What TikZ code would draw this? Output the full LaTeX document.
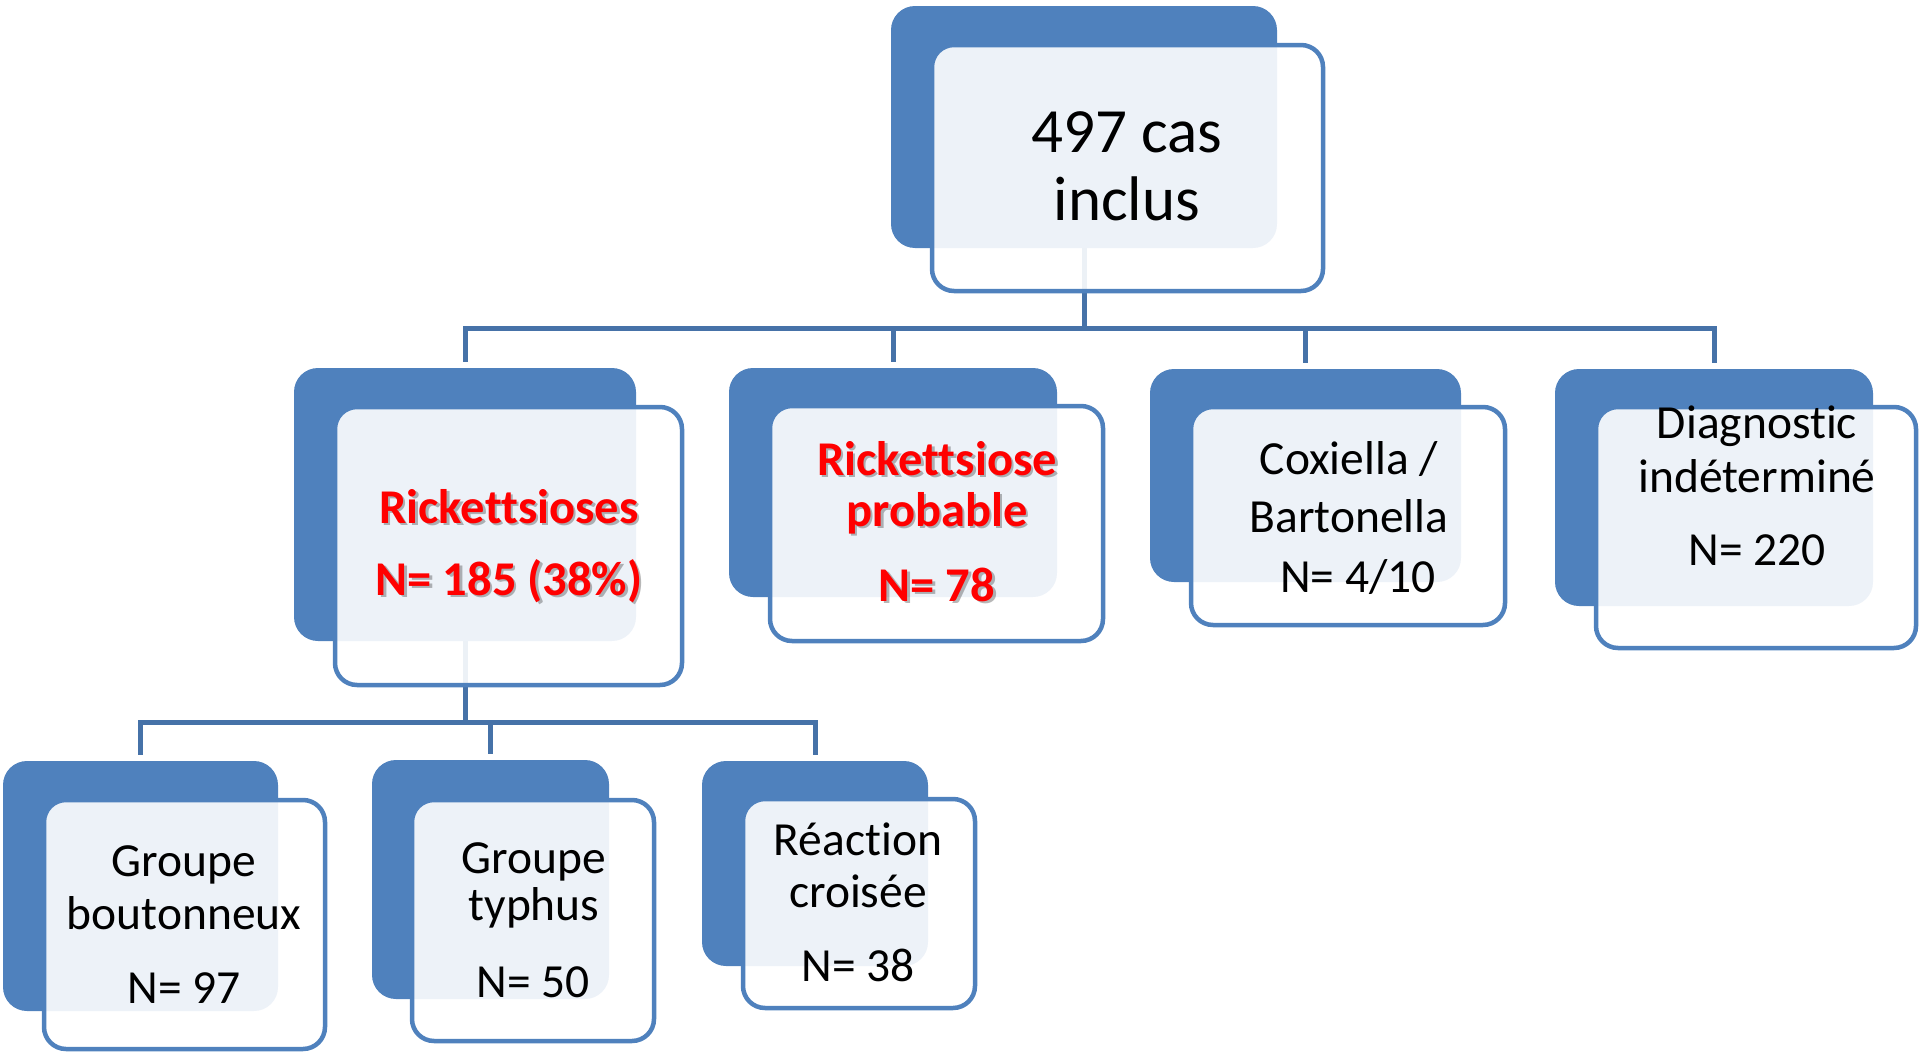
\documentclass[tikz,border=0pt]{standalone}
\usepackage{fontspec}
\setmainfont{Carlito}[Ligatures={NoCommon,NoContextual}]
\usetikzlibrary{backgrounds,calc}
\definecolor{boxblue}{HTML}{4F81BD}
\definecolor{linkblue}{HTML}{4672A8}
\definecolor{rtxt}{HTML}{FF0000}
\tikzset{
  darkbox/.style={rectangle, fill=boxblue, rounded corners=24pt, inner sep=0pt},
  frontbox/.style={rectangle, draw=boxblue, line width=4.5pt, fill=white, fill opacity=0.9, rounded corners=22pt, inner sep=0pt},
  conn/.style={draw=linkblue, line width=5pt, line join=miter},
  lbl/.style={anchor=base, inner sep=0pt, font=\fontsize{47.5}{47.5}\selectfont},
  toplbl/.style={anchor=base, inner sep=0pt, font=\fontsize{63}{63}\selectfont},
  redlbl/.style={anchor=base, inner sep=0pt, text=rtxt, font=\fontsize{48.5}{48.5}\selectfont\bfseries},
  shlbl/.style={anchor=base, inner sep=0pt, text=black, text opacity=0.28, font=\fontsize{48.5}{48.5}\selectfont\bfseries},
}
\begin{document}
\begin{tikzpicture}[x=1pt,y=-1pt]
\useasboundingbox (0,0) rectangle (1920,1052);
% dark boxes
\node[darkbox, minimum width=386pt, minimum height=242pt] (topd) at (1084,127) {};
\node[darkbox, minimum width=342pt, minimum height=273pt] (r1d) at (465,504.5) {};
\node[darkbox, minimum width=328pt, minimum height=229pt] (r2d) at (893,482.5) {};
\node[darkbox, minimum width=311pt, minimum height=213pt] (r3d) at (1305.5,475.5) {};
\node[darkbox, minimum width=318pt, minimum height=237pt] (r4d) at (1714,487.5) {};
\node[darkbox, minimum width=275pt, minimum height=250pt] (l1d) at (140.5,886) {};
\node[darkbox, minimum width=237pt, minimum height=239pt] (l2d) at (490.5,879.5) {};
\node[darkbox, minimum width=226pt, minimum height=205pt] (l3d) at (815,863.5) {};
% front boxes
\node[frontbox, minimum width=391pt, minimum height=246pt] (topf) at (1127.5,168) {};
\node[frontbox, minimum width=347pt, minimum height=278pt] (r1f) at (508.5,546) {};
\node[frontbox, minimum width=333pt, minimum height=235pt] (r2f) at (936.5,523.5) {};
\node[frontbox, minimum width=314pt, minimum height=218pt] (r3f) at (1348,516) {};
\node[frontbox, minimum width=320pt, minimum height=241pt] (r4f) at (1756,527.5) {};
\node[frontbox, minimum width=281pt, minimum height=249pt] (l1f) at (184.5,924.5) {};
\node[frontbox, minimum width=242pt, minimum height=241pt] (l2f) at (533,920.5) {};
\node[frontbox, minimum width=232pt, minimum height=209pt] (l3f) at (859,903.5) {};
% connectors
\coordinate (bus1) at (0,328);
\coordinate (bus2) at (0,722);
\begin{pgfonlayer}{background}
\draw[conn] (topd.center) -- (topd.center |- bus1);
\draw[conn] ($(r1d.north)+(0,-6)$) -- (r1d.north |- bus1) -- (r4d.north |- bus1) -- ($(r4d.north)+(0,-6)$);
\draw[conn] (r2d.north |- bus1) -- ($(r2d.north)+(0,-6)$);
\draw[conn] (r3d.north |- bus1) -- ($(r3d.north)+(0,-6)$);
\draw[conn] (r1d.center) -- (r1d.center |- bus2);
\draw[conn] ($(l1d.north)+(0,-6)$) -- (l1d.north |- bus2) -- (l3d.north |- bus2) -- ($(l3d.north)+(0,-6)$);
\draw[conn] (l2d.north |- bus2) -- ($(l2d.north)+(0,-6)$);
\end{pgfonlayer}
% texts
\node[toplbl] (t1) at (1127,152) {497 cas};
\node[toplbl] (t2) at (1127,220) {inclus};
% Rickettsioses
\node[shlbl] (r1as) at (511.5,525.5) {Rickettsioses};
\node[shlbl] (r1bs) at (511.5,597.5) {N= 185 (38\%)};
\node[redlbl] (r1a) at (509,523) {Rickettsioses};
\node[redlbl] (r1b) at (509,595) {N= 185 (38\%)};
% probable
\node[shlbl] (r2as) at (939.5,477.5) {Rickettsiose};
\node[shlbl] (r2bs) at (939.5,528.5) {probable};
\node[shlbl] (r2cs) at (939.5,603.5) {N= 78};
\node[redlbl] (r2a) at (937,475) {Rickettsiose};
\node[redlbl] (r2b) at (937,526) {probable};
\node[redlbl] (r2c) at (937,601) {N= 78};
% Coxiella
\node[lbl] (r3a) at (1349,474) {Coxiella /};
\node[lbl] (r3b) at (1349,532) {Bartonella};
\node[lbl] (r3c) at (1358,592) {N= 4/10};
% Diagnostic
\node[lbl] (r4a) at (1757,438) {Diagnostic};
\node[lbl] (r4b) at (1757,492) {indéterminé};
\node[lbl] (r4c) at (1757,565) {N= 220};
% level 3
\node[lbl] (l1a) at (184,876) {Groupe};
\node[lbl] (l1b) at (184,929) {boutonneux};
\node[lbl] (l1c) at (184,1003) {N= 97};
\node[lbl] (l2a) at (534,873) {Groupe};
\node[lbl] (l2b) at (534,920) {typhus};
\node[lbl] (l2c) at (533,997) {N= 50};
\node[lbl] (l3a) at (858,855) {Réaction};
\node[lbl] (l3b) at (858,907) {croisée};
\node[lbl] (l3c) at (858,981) {N= 38};
\end{tikzpicture}
\end{document}
